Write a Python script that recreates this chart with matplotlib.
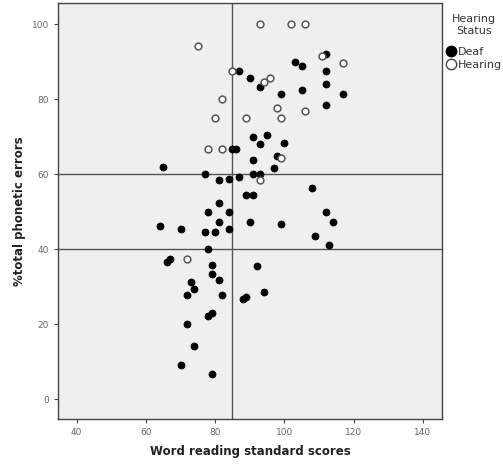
import matplotlib
matplotlib.use('Agg')
import matplotlib.pyplot as plt
from matplotlib.lines import Line2D

# word reading standard score vs %total phonetic errors
deaf_x = [87, 90, 93, 91, 93, 95, 100, 85, 86, 91, 98, 97, 65, 77, 91, 93, 81, 84, 87,
          89, 91, 81, 78, 84, 81, 90, 99, 64, 70, 77, 80, 84, 78, 66, 67, 79, 79, 73,
          74, 81, 72, 82, 92, 88, 89, 94, 78, 79, 72, 74, 70, 79, 109, 113, 108, 112,
          114, 112, 103, 105, 112, 112, 105, 117, 99, 112]
deaf_y = [87.5, 85.8, 83.4, 70, 68.2, 70.6, 68.4, 66.7, 66.7, 63.7, 64.9, 61.6, 62, 60,
          60, 60, 58.4, 58.8, 59.2, 54.6, 54.6, 52.4, 50, 50, 47.3, 47.2, 46.7, 46.2,
          45.5, 44.6, 44.6, 45.5, 40, 36.5, 37.3, 35.8, 33.4, 31.3, 29.5, 31.8, 27.9,
          27.9, 35.5, 26.7, 27.3, 28.6, 22.3, 23.1, 20, 14.3, 9.2, 6.7, 43.5, 41.2,
          56.3, 50, 47.3, 92.2, 90, 89, 87.5, 84.2, 82.5, 81.3, 81.3, 78.6]

hearing_x = [75, 85, 82, 80, 89, 78, 82, 93, 102, 106, 111, 117, 94, 96, 98, 106, 99, 99,
             93, 72]
hearing_y = [94.2, 87.5, 80, 75, 75, 66.7, 66.7, 100, 100, 100, 91.6, 89.6, 84.7, 85.8,
             77.8, 76.9, 75, 64.4, 58.4, 37.5]

ref_x = 85
ref_y = [40, 60]

fig = plt.figure(figsize=(5.03, 4.70), dpi=100)
ax = fig.add_axes([0.1153, 0.1085, 0.763, 0.885])
ax.set_facecolor('#efefef')

ax.axvline(ref_x, color='#555555', lw=1.0, zorder=1)
for yv in ref_y:
    ax.axhline(yv, color='#555555', lw=1.0, zorder=1)

ax.scatter(deaf_x, deaf_y, s=26, c='black', edgecolors='black', linewidths=0.5, zorder=3)
ax.scatter(hearing_x, hearing_y, s=24, facecolors='white', edgecolors='#555555',
           linewidths=1.1, zorder=4)

ax.set_xlim(34.6, 145.5)
ax.set_ylim(-5.3, 105.7)
ax.set_xticks([40, 60, 80, 100, 120, 140])
ax.set_yticks([0, 20, 40, 60, 80, 100])
ax.tick_params(labelsize=6.5, colors='#444444', labelcolor='#666666', length=3, width=0.8)

for sp in ax.spines.values():
    sp.set_color('#444444')
    sp.set_linewidth(1.0)

ax.set_xlabel('Word reading standard scores', fontsize=8.5, fontweight='bold',
              color='#222222', labelpad=6)
ax.set_ylabel('%total phonetic errors', fontsize=8.5, fontweight='bold',
              color='#222222', labelpad=4)

handles = [
    Line2D([], [], ls='none', marker='o', ms=7.5, mfc='black', mec='black'),
    Line2D([], [], ls='none', marker='o', ms=7.5, mfc='white', mec='#444444', mew=1.0),
]
leg = ax.legend(handles, ['Deaf', 'Hearing'], title='Hearing\nStatus',
                loc='upper left', bbox_to_anchor=(1.0, 0.985), frameon=False,
                fontsize=8, title_fontsize=8, handletextpad=0.15,
                handlelength=0.9, labelspacing=0.25, borderaxespad=0.2,
                borderpad=0.2)
leg.get_title().set_multialignment('center')
leg.get_title().set_linespacing(1.25)
leg.get_title().set_color('#333333')
leg._legend_box.sep = 8
for t in leg.get_texts():
    t.set_color('#333333')

fig.savefig('out.png', dpi=100)
